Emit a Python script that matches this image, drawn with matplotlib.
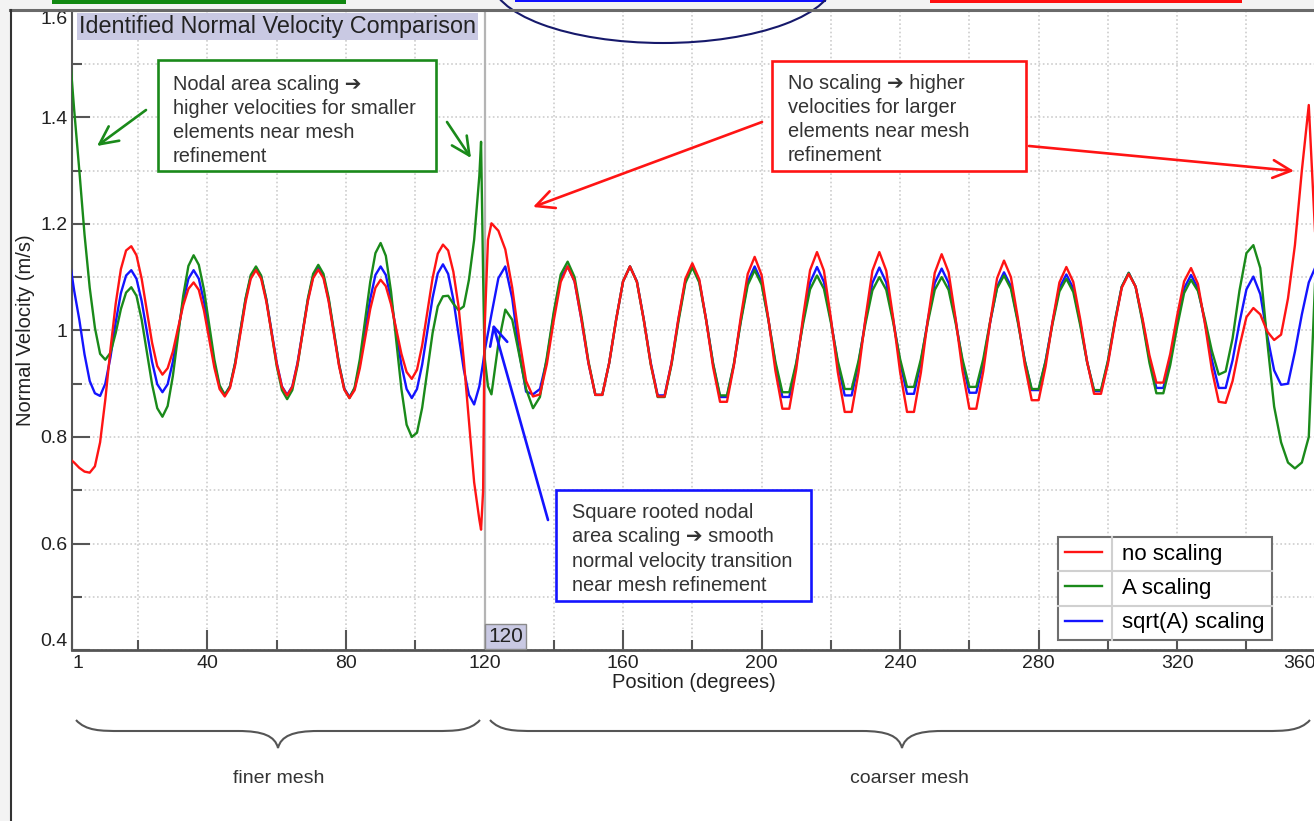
import numpy as np
import matplotlib
matplotlib.use("Agg")
import matplotlib.pyplot as plt
from matplotlib.patches import Rectangle, Ellipse, PathPatch, FancyArrowPatch
from matplotlib.path import Path
from matplotlib.lines import Line2D

W, H = 1314, 821

# sample positions (degrees): fine mesh, refinement transition, coarse mesh
pos_fine = np.arange(80) * 1.5
pos_mid = [119.0, 119.6, 120.0, 121.0]
pos_coarse = np.arange(122, 361, 2)

# normal velocity (m/s)
no_scaling_fine = [
    0.760, 0.752, 0.742, 0.735, 0.733, 0.745,
    0.790, 0.870, 0.965, 1.050, 1.115, 1.150,
    1.158, 1.141, 1.097, 1.037, 0.977, 0.933,
    0.917, 0.929, 0.960, 1.004, 1.047, 1.078,
    1.090, 1.076, 1.037, 0.983, 0.930, 0.890,
    0.876, 0.892, 0.935, 0.994, 1.053, 1.097,
    1.113, 1.097, 1.054, 0.995, 0.937, 0.894,
    0.878, 0.894, 0.937, 0.996, 1.055, 1.098,
    1.114, 1.098, 1.054, 0.994, 0.933, 0.889,
    0.873, 0.888, 0.929, 0.984, 1.040, 1.080,
    1.095, 1.083, 1.049, 1.002, 0.956, 0.922,
    0.909, 0.926, 0.972, 1.035, 1.098, 1.144,
    1.161, 1.150, 1.110, 1.045, 0.945, 0.830,
    0.715, 0.645]
no_scaling_mid = [0.626, 0.700, 1.000, 1.170]
no_scaling_coarse = [
    1.201, 1.187,
    1.152, 1.080, 0.985, 0.905, 0.876, 0.880, 0.937, 1.019, 1.091,
    1.120, 1.092, 1.020, 0.939, 0.879, 0.879, 0.939, 1.020, 1.092,
    1.120, 1.091, 1.019, 0.937, 0.876, 0.876, 0.939, 1.023, 1.097,
    1.126, 1.096, 1.019, 0.931, 0.866, 0.866, 0.934, 1.025, 1.106,
    1.138, 1.104, 1.020, 0.924, 0.853, 0.853, 0.927, 1.026, 1.113,
    1.147, 1.112, 1.023, 0.922, 0.847, 0.847, 0.922, 1.023, 1.112,
    1.147, 1.112, 1.023, 0.922, 0.847, 0.847, 0.921, 1.020, 1.108,
    1.143, 1.109, 1.023, 0.925, 0.853, 0.853, 0.923, 1.016, 1.098,
    1.131, 1.100, 1.023, 0.935, 0.869, 0.869, 0.932, 1.016, 1.090,
    1.119, 1.091, 1.021, 0.941, 0.881, 0.881, 0.937, 1.013, 1.080,
    1.106, 1.082, 1.022, 0.953, 0.902, 0.902, 0.956, 1.028, 1.092,
    1.117, 1.087, 1.013, 0.927, 0.866, 0.864, 0.905, 0.970, 1.025,
    1.042, 1.030, 0.998, 0.982, 0.992, 1.060, 1.160, 1.300, 1.423,
    1.160]

a_scaling_fine = [
    1.540, 1.415, 1.300, 1.180, 1.080, 1.005,
    0.956, 0.945, 0.958, 0.995, 1.040, 1.071,
    1.081, 1.065, 1.020, 0.960, 0.899, 0.854,
    0.838, 0.858, 0.914, 0.990, 1.065, 1.121,
    1.141, 1.123, 1.076, 1.010, 0.945, 0.897,
    0.879, 0.895, 0.939, 1.000, 1.060, 1.104,
    1.120, 1.103, 1.058, 0.996, 0.933, 0.888,
    0.871, 0.888, 0.934, 0.997, 1.060, 1.106,
    1.123, 1.106, 1.061, 0.998, 0.936, 0.890,
    0.873, 0.893, 0.946, 1.019, 1.091, 1.145,
    1.164, 1.140, 1.073, 0.981, 0.890, 0.823,
    0.800, 0.808, 0.855, 0.925, 0.995, 1.045,
    1.064, 1.065, 1.050, 1.038, 1.045, 1.095,
    1.170, 1.290]
a_scaling_mid = [1.354, 1.100, 0.950, 0.895]
a_scaling_coarse = [
    0.880, 0.975,
    1.039, 1.020, 0.955, 0.890, 0.854, 0.875, 0.950, 1.035, 1.105,
    1.129, 1.100, 1.026, 0.942, 0.879, 0.879, 0.939, 1.020, 1.092,
    1.120, 1.091, 1.019, 0.936, 0.875, 0.875, 0.936, 1.017, 1.089,
    1.118, 1.090, 1.019, 0.938, 0.878, 0.878, 0.937, 1.016, 1.085,
    1.113, 1.086, 1.018, 0.941, 0.884, 0.884, 0.939, 1.013, 1.077,
    1.103, 1.078, 1.015, 0.943, 0.890, 0.890, 0.943, 1.013, 1.075,
    1.100, 1.076, 1.015, 0.946, 0.894, 0.894, 0.946, 1.015, 1.076,
    1.100, 1.076, 1.015, 0.946, 0.894, 0.894, 0.946, 1.017, 1.079,
    1.103, 1.078, 1.015, 0.943, 0.890, 0.890, 0.942, 1.012, 1.073,
    1.097, 1.072, 1.010, 0.940, 0.888, 0.888, 0.943, 1.017, 1.082,
    1.108, 1.082, 1.015, 0.939, 0.882, 0.882, 0.935, 1.007, 1.070,
    1.095, 1.074, 1.021, 0.962, 0.917, 0.923, 0.985, 1.075, 1.145,
    1.160, 1.117, 0.980, 0.857, 0.790, 0.752, 0.741, 0.752, 0.800,
    1.120]

sqrt_a_scaling_fine = [
    1.140, 1.075, 1.020, 0.955, 0.905, 0.882,
    0.877, 0.900, 0.950, 1.015, 1.070, 1.103,
    1.113, 1.097, 1.055, 0.998, 0.941, 0.899,
    0.884, 0.899, 0.941, 0.998, 1.055, 1.097,
    1.113, 1.097, 1.054, 0.996, 0.937, 0.895,
    0.879, 0.895, 0.939, 0.998, 1.058, 1.101,
    1.117, 1.101, 1.058, 0.998, 0.939, 0.895,
    0.879, 0.895, 0.939, 0.998, 1.058, 1.101,
    1.117, 1.101, 1.057, 0.996, 0.936, 0.891,
    0.875, 0.891, 0.936, 0.998, 1.059, 1.104,
    1.120, 1.104, 1.058, 0.997, 0.935, 0.890,
    0.873, 0.890, 0.936, 0.999, 1.061, 1.107,
    1.124, 1.106, 1.058, 0.993, 0.927, 0.879,
    0.861, 0.895]
sqrt_a_scaling_mid = [0.915, 0.940, 0.960, 0.995]
sqrt_a_scaling_coarse = [
    1.030, 1.098,
    1.120, 1.060, 0.960, 0.885, 0.880, 0.890, 0.945, 1.030, 1.098,
    1.120, 1.092, 1.020, 0.939, 0.879, 0.879, 0.939, 1.020, 1.092,
    1.120, 1.092, 1.020, 0.939, 0.878, 0.878, 0.939, 1.021, 1.093,
    1.122, 1.093, 1.020, 0.937, 0.875, 0.875, 0.936, 1.019, 1.091,
    1.120, 1.091, 1.019, 0.936, 0.875, 0.875, 0.936, 1.018, 1.090,
    1.119, 1.091, 1.019, 0.938, 0.878, 0.878, 0.938, 1.019, 1.089,
    1.118, 1.090, 1.020, 0.940, 0.881, 0.881, 0.940, 1.019, 1.089,
    1.116, 1.089, 1.020, 0.941, 0.883, 0.883, 0.939, 1.015, 1.082,
    1.109, 1.083, 1.018, 0.943, 0.888, 0.888, 0.942, 1.015, 1.080,
    1.105, 1.079, 1.015, 0.941, 0.886, 0.886, 0.941, 1.016, 1.082,
    1.108, 1.082, 1.019, 0.946, 0.892, 0.892, 0.945, 1.016, 1.079,
    1.104, 1.079, 1.016, 0.945, 0.892, 0.892, 0.944, 1.015, 1.077,
    1.101, 1.068, 0.990, 0.925, 0.898, 0.900, 0.960, 1.030, 1.090,
    1.120]

x_ticks = [1, 40, 80, 120, 160, 200, 240, 280, 320, 360]
y_ticks = [0.4, 0.6, 0.8, 1.0, 1.2, 1.4, 1.6]
y_tick_labels = ["0.4", "0.6", "0.8", "1", "1.2", "1.4", "1.6"]

RED, GREEN, BLUE = "#ff1414", "#1a8a1a", "#1414ff"

plt.rcParams["font.family"] = ["Liberation Sans", "DejaVu Sans"]


def fx(x):
    return x / W


def fy(y):
    return 1 - y / H


fig = plt.figure(figsize=(W / 100, H / 100), dpi=100, facecolor="#f3f3f3")
fig.add_artist(Rectangle((fx(10), 0), 1 - fx(10), fy(10), transform=fig.transFigure,
                         fc="white", ec="none", zorder=-1))

ax = fig.add_axes([fx(72.4), fy(650.1), (1315.7 - 72.4) / W, (650.1 - 10.7) / H])

pos = np.concatenate([pos_fine, pos_mid, pos_coarse])
series = [
    ("sqrt(A) scaling", BLUE, sqrt_a_scaling_fine, sqrt_a_scaling_mid, sqrt_a_scaling_coarse),
    ("A scaling", GREEN, a_scaling_fine, a_scaling_mid, a_scaling_coarse),
    ("no scaling", RED, no_scaling_fine, no_scaling_mid, no_scaling_coarse),
]
handles = {}
for name, col, f, m, c in series:
    handles[name], = ax.plot(pos, np.concatenate([f, m, c]), color=col, lw=1.7,
                             label=name, zorder=3)

ax.axvline(120, color="#b4b4b4", lw=1.6, zorder=2)
ax.set_xlim(1, 360)
ax.set_ylim(0.4, 1.6)

ax.set_xticks(x_ticks, labels=[str(t) for t in x_ticks])
ax.set_xticks(np.arange(20, 360, 40), minor=True)
ax.set_yticks(y_ticks, labels=y_tick_labels)
ax.set_yticks(np.arange(0.5, 1.6, 0.2), minor=True)
ax.tick_params(which="both", direction="in", width=1.5, color="#555555",
               labelsize=14, labelcolor="#222222", pad=3.5)
ax.tick_params(axis="x", which="major", length=14.5)
ax.tick_params(axis="x", which="minor", length=7)
ax.tick_params(axis="y", which="major", length=13)
ax.tick_params(axis="y", which="minor", length=7.5)
xl = ax.get_xticklabels()
xl[0].set_ha("left")
xl[-1].set_ha("right")
yl = ax.get_yticklabels()
yl[0].set_va("bottom")
yl[-1].set_va("top")

ax.grid(which="both", color="#cdcdcd", linestyle=(0, (1, 1.5)), lw=1.2, zorder=0)
for s in ["top", "right"]:
    ax.spines[s].set_visible(False)
ax.spines["left"].set_color("#555555")
ax.spines["left"].set_linewidth(1.5)
ax.spines["bottom"].set_color("#555555")
ax.spines["bottom"].set_linewidth(2)

ax.set_xlabel("Position (degrees)", fontsize=14.5, color="#222222")
ax.xaxis.set_label_coords(0.5, (650.1 - 673) / 639.4)
ax.set_ylabel("Normal Velocity (m/s)", fontsize=14.5, color="#222222")
ax.yaxis.set_label_coords((35 - 72.4) / 1243.3, 0.5)

# marker label at the mesh boundary
ax.text(121.0, 0.006, "120", transform=ax.get_xaxis_transform(), fontsize=15,
        ha="left", va="bottom", color="#222222", zorder=6,
        bbox=dict(boxstyle="square,pad=0.15", fc="#c9c9e3", ec="#8a8a8a", lw=1))

fig.text(fx(79), fy(33), "Identified Normal Velocity Comparison", fontsize=16.8,
         color="#222222", va="baseline",
         bbox=dict(boxstyle="square,pad=0.08", fc="#c9c9e3", ec="none"))

leg = ax.legend(handles=[handles["no scaling"], handles["A scaling"], handles["sqrt(A) scaling"]],
                loc="upper left", bbox_to_anchor=(fx(1058), fy(537)),
                bbox_transform=fig.transFigure, borderaxespad=0, fontsize=16,
                fancybox=False, framealpha=1, edgecolor="#6e6e6e", borderpad=0.3,
                labelspacing=0.6, handlelength=1.7, handletextpad=0.9)
leg.get_frame().set_linewidth(1.5)
leg.set_zorder(7)

# frame of the slide
fig.add_artist(Line2D([fx(10), 1], [fy(10.5), fy(10.5)], transform=fig.transFigure,
                      color="#6a6a6a", lw=2.2))
fig.add_artist(Line2D([fx(10.5), fx(10.5)], [0, fy(10)], transform=fig.transFigure,
                      color="#333333", lw=1.5))

# coloured tabs and ellipse cut by the top edge
for x0, x1, h, col in [(52, 346, 4, "#118811"), (515, 826, 2, "#1010ff"), (930, 1242, 3.5, "#ff1010")]:
    fig.add_artist(Rectangle((fx(x0), fy(h)), (x1 - x0) / W, h / H, transform=fig.transFigure,
                             fc=col, ec="none"))
fig.add_artist(Ellipse((fx(663), fy(-21.3)), 344 / W, 128.6 / H, transform=fig.transFigure,
                       fill=False, ec="#16196b", lw=1.5))


def note(x0, y0, x1, y1, col, tx, lines, baselines):
    fig.add_artist(Rectangle((fx(x0), fy(y1)), (x1 - x0) / W, (y1 - y0) / H,
                             transform=fig.transFigure, fc="white", ec=col, lw=1.9))
    for s, b in zip(lines, baselines):
        fig.text(fx(tx), fy(b), s, fontsize=14.4, color="#333333", va="baseline")


def arrow(x0, y0, x1, y1, col):
    fig.add_artist(FancyArrowPatch((fx(x0), fy(y0)), (fx(x1), fy(y1)), transform=fig.transFigure,
                                   arrowstyle="->,head_length=0.65,head_width=0.32",
                                   mutation_scale=20, color=col, lw=1.9, shrinkA=0, shrinkB=0))


note(158, 60, 436, 171, GREEN, 173,
     ["Nodal area scaling \u2794", "higher velocities for smaller", "elements near mesh", "refinement"],
     [90, 114, 138, 162])
note(772, 61, 1026, 171, RED, 788,
     ["No scaling \u2794 higher", "velocities for larger", "elements near mesh", "refinement"],
     [89, 113, 137, 161])
note(556, 490, 811, 601, BLUE, 572,
     ["Square rooted nodal", "area scaling \u2794 smooth", "normal velocity transition",
      "near mesh refinement"],
     [518, 542, 567, 591])

arrow(146, 110, 97, 146, GREEN)
arrow(447, 122, 471, 158, GREEN)
arrow(762, 122, 533, 207, RED)
arrow(1029, 146, 1294, 171, RED)
arrow(548, 520, 493, 324, BLUE)


def brace(x0, x1, xc, y_end, y_flat, y_tip):
    pts = [(x0, y_end), (x0 + 10, y_flat), (x0 + 25, y_flat), (x0 + 45, y_flat),
           (xc - 40, y_flat), (xc - 15, y_flat), (xc - 3, y_flat + 5), (xc, y_tip),
           (xc + 3, y_flat + 5), (xc + 15, y_flat), (xc + 40, y_flat),
           (x1 - 45, y_flat), (x1 - 25, y_flat), (x1 - 10, y_flat), (x1, y_end)]
    codes = [Path.MOVETO] + [Path.CURVE4] * 3 + [Path.LINETO] + [Path.CURVE4] * 6 + \
            [Path.LINETO] + [Path.CURVE4] * 3
    p = Path([(fx(x), fy(y)) for x, y in pts], codes)
    fig.add_artist(PathPatch(p, transform=fig.transFigure, fill=False, ec="#555555", lw=1.5))


brace(76, 480, 278, 720, 731, 748)
brace(490, 1310, 902, 720, 731, 748)
fig.text(fx(279), fy(778), "finer mesh", fontsize=14, color="#333333", ha="center", va="center")
fig.text(fx(909), fy(778), "coarser mesh", fontsize=14, color="#333333", ha="center", va="center")

# cell dividers inside the legend
fig.canvas.draw()
r = fig.canvas.get_renderer()
fb = leg.get_frame().get_window_extent(r)
tb = [t.get_window_extent(r) for t in leg.get_texts()]
xdiv = tb[0].x0 - 0.45 * 16 * 100 / 72
fig.add_artist(Line2D([xdiv / W, xdiv / W], [fb.y0 / H, fb.y1 / H], transform=fig.transFigure,
                      color="#d0d0d0", lw=1.5))
for a, b in zip(tb[:-1], tb[1:]):
    yy = (a.y0 + b.y1) / 2
    fig.add_artist(Line2D([fb.x0 / W, fb.x1 / W], [yy / H, yy / H], transform=fig.transFigure,
                          color="#d0d0d0", lw=1.5))

fig.savefig("out.png", dpi=100, facecolor=fig.get_facecolor())
